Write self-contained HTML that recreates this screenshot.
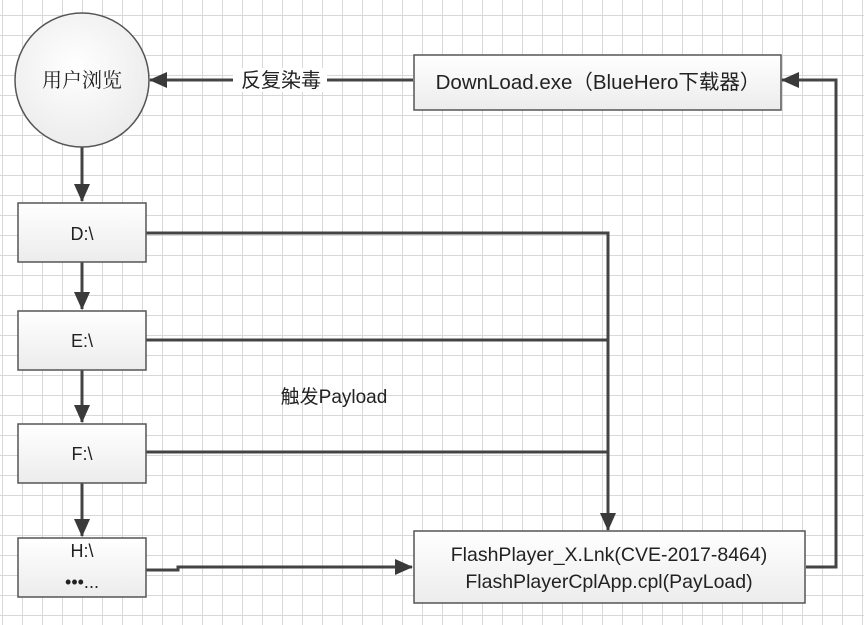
<!DOCTYPE html>
<html><head><meta charset="utf-8"><style>
html,body{margin:0;padding:0;background:#fff}
svg{display:block}
text{font-family:"Liberation Sans","Noto Sans CJK SC",sans-serif;fill:#222}
</style></head><body>
<svg width="864" height="625" viewBox="0 0 864 625" xmlns="http://www.w3.org/2000/svg">
<defs>
<pattern id="g" x="2" y="15" width="20" height="20" patternUnits="userSpaceOnUse">
<path d="M0 0.5H20M0.5 0V20" stroke="#d8d8d8" stroke-width="1" fill="none"/>
</pattern>
<linearGradient id="bx" x1="0" y1="0" x2="0" y2="1"><stop offset="0" stop-color="#ffffff"/><stop offset="1" stop-color="#ececec"/></linearGradient>
<radialGradient id="cg" cx="0.45" cy="0.4" r="0.6"><stop offset="0" stop-color="#ffffff"/><stop offset="1" stop-color="#ececec"/></radialGradient>
<marker id="b" markerWidth="18" markerHeight="18" refX="17" refY="9" orient="auto" markerUnits="userSpaceOnUse" viewBox="0 0 18 18">
<path d="M0 1L18 9L0 17Z" fill="#3a3a3a"/></marker>
</defs>
<rect width="864" height="625" fill="url(#g)"/>
<g stroke="#444" stroke-width="3" fill="none">
<path d="M413 80H150" marker-end="url(#b)"/>
<path d="M82 147V201" marker-end="url(#b)"/>
<path d="M82 262V309" marker-end="url(#b)"/>
<path d="M82 370V422" marker-end="url(#b)"/>
<path d="M82 483V536" marker-end="url(#b)"/>
<path d="M146 233H608V530" marker-end="url(#b)"/>
<path d="M146 340H608"/>
<path d="M146 452H608"/>
<path d="M146 570H178V567H412" marker-end="url(#b)"/>
<path d="M806 567H836V80H782" marker-end="url(#b)"/>
</g>
<rect x="233" y="68" width="94" height="24" fill="#fff"/>
<text x="281" y="87" font-size="20" text-anchor="middle">反复染毒</text>
<circle cx="82" cy="80" r="67" fill="url(#cg)" stroke="#555" stroke-width="1.5"/>
<text x="82" y="87" font-size="20" text-anchor="middle" style="font-family:'Noto Serif CJK SC',serif">用户浏览</text>
<g stroke="#555" stroke-width="1.5" fill="url(#bx)">
<rect x="414" y="55" width="367" height="55"/>
<rect x="18" y="203" width="128" height="59"/>
<rect x="18" y="311" width="128" height="59"/>
<rect x="18" y="424" width="128" height="59"/>
<rect x="18" y="538" width="128" height="59"/>
<rect x="414" y="531" width="391" height="72"/>
</g>
<text x="598" y="89" font-size="20.5" text-anchor="middle">DownLoad.exe（BlueHero下载器）</text>
<text x="82" y="240" font-size="18" text-anchor="middle">D:\</text>
<text x="82" y="347" font-size="18" text-anchor="middle">E:\</text>
<text x="82" y="460" font-size="18" text-anchor="middle">F:\</text>
<text x="82" y="557" font-size="18" text-anchor="middle">H:\</text>
<text x="82" y="588" font-size="18" text-anchor="middle">•••...</text>
<text x="334" y="403" font-size="19" text-anchor="middle">触发Payload</text>
<text x="609" y="561" font-size="19.5" text-anchor="middle">FlashPlayer_X.Lnk(CVE-2017-8464)</text>
<text x="609" y="588" font-size="19.5" text-anchor="middle">FlashPlayerCplApp.cpl(PayLoad)</text>
</svg>
</body></html>
